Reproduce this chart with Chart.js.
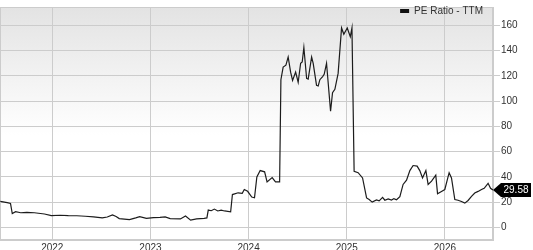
<!DOCTYPE html>
<html>
<head>
<meta charset="utf-8">
<script src="https://cdn.jsdelivr.net/npm/chart.js@4.4.0/dist/chart.umd.min.js"></script>
<style>
  html, body { margin: 0; padding: 0; background: #fff; }
  canvas { display: block; }
</style>
</head>
<body>
<canvas id="peChart" width="533" height="250"></canvas>
<script>
// decimal years, with the TTM PE ratio at each
const years = [
  2021.470, 2021.540, 2021.574, 2021.592, 2021.626, 2021.678, 2021.740, 2021.817, 2021.920, 2021.990,
  2022.080, 2022.163, 2022.250, 2022.336, 2022.420, 2022.509, 2022.560, 2022.613, 2022.650, 2022.682,
  2022.786, 2022.850, 2022.890, 2022.959, 2023.030, 2023.097, 2023.150, 2023.201, 2023.305, 2023.357,
  2023.409, 2023.470, 2023.547, 2023.575, 2023.589, 2023.620, 2023.651, 2023.686, 2023.720, 2023.755,
  2023.817, 2023.835, 2023.893, 2023.935, 2023.956, 2023.990, 2024.032, 2024.060, 2024.084, 2024.118,
  2024.163, 2024.188, 2024.240, 2024.274, 2024.316, 2024.329, 2024.352, 2024.380, 2024.403, 2024.428,
  2024.448, 2024.479, 2024.505, 2024.530, 2024.546, 2024.563, 2024.591, 2024.607, 2024.642, 2024.658,
  2024.692, 2024.709, 2024.726, 2024.754, 2024.770, 2024.794, 2024.835, 2024.855, 2024.879, 2024.912,
  2024.947, 2024.970, 2024.991, 2025.005, 2025.036, 2025.053, 2025.075, 2025.116, 2025.161, 2025.202,
  2025.228, 2025.259, 2025.303, 2025.330, 2025.365, 2025.388, 2025.422, 2025.456, 2025.480, 2025.507,
  2025.541, 2025.574, 2025.609, 2025.643, 2025.676, 2025.717, 2025.744, 2025.772, 2025.806, 2025.829,
  2025.864, 2025.907, 2025.925, 2025.965, 2025.999, 2026.043, 2026.067, 2026.101, 2026.134, 2026.169,
  2026.203, 2026.236, 2026.271, 2026.304, 2026.338, 2026.373, 2026.400, 2026.440, 2026.465, 2026.489
];
const peRatio = [
  20.6, 19.6, 19.0, 11.0, 12.4, 11.6, 11.9, 11.6, 10.6, 9.3,
  9.6, 9.3, 9.2, 8.8, 8.3, 7.5, 8.2, 9.8, 8.6, 7.0,
  6.2, 7.5, 8.5, 7.2, 7.8, 8.0, 8.3, 7.0, 6.7, 9.0,
  5.7, 6.8, 7.2, 7.5, 13.7, 13.2, 14.5, 13.0, 13.6, 13.0,
  12.4, 26.0, 27.4, 27.0, 30.0, 28.6, 24.0, 23.5, 40.0, 45.0,
  44.0, 36.0, 39.5, 36.0, 36.0, 117, 127, 128.5, 135, 123,
  116.4, 123, 115, 130, 131, 142.5, 118, 117.5, 135, 130,
  112.5, 112, 117, 119.5, 121.3, 130, 92, 106.7, 109.4, 122,
  158, 153, 156, 158, 151, 158, 44.4, 43.3, 39.2, 23.3,
  22, 20, 21.7, 21, 23.8, 21.5, 22.5, 21.7, 22.8, 21.9,
  24.4, 34, 37.4, 45, 49, 48.5, 45, 39.2, 45, 34,
  36.6, 41.3, 26.7, 28.5, 30, 43.3, 39.2, 22, 21.5, 20.5,
  19.2, 21.3, 24.5, 27.2, 28.5, 30, 31, 34.9, 31, 29.58
];
const xTickYears = [2022, 2023, 2024, 2025, 2026];
const yTickValues = [0, 20, 40, 60, 80, 100, 120, 140, 160];
const seriesLabel = "PE Ratio - TTM";
const lastValueLabel = "29.58";

const fontFamily = "'Liberation Sans', Arial, sans-serif";
const labelFont = { family: fontFamily, size: 10 };
const textColor = "#333333";
const gridColor = "#cccccc";

const backgroundPlugin = {
  id: "plotBackground",
  beforeDraw(chart) {
    const { ctx, chartArea: a } = chart;
    const grad = ctx.createLinearGradient(0, a.top, 0, a.bottom);
    grad.addColorStop(0, "#e3e3e3");
    grad.addColorStop(0.55, "#ffffff");
    grad.addColorStop(1, "#ffffff");
    ctx.save();
    ctx.fillStyle = grad;
    ctx.fillRect(a.left, a.top, a.right - a.left, a.bottom - a.top);
    ctx.restore();
  },
  beforeDatasetsDraw(chart) {
    const { ctx, chartArea: a } = chart;
    ctx.save();
    ctx.strokeStyle = gridColor;
    ctx.lineWidth = 1;
    ctx.strokeRect(a.left + 0.5, a.top + 0.5, a.right - a.left - 1, a.bottom - a.top - 1);
    ctx.restore();
  }
};

// legend in the top right corner of the plot, plus the last value tag
const overlayPlugin = {
  id: "overlay",
  afterDraw(chart) {
    const { ctx, chartArea: a } = chart;
    ctx.save();
    ctx.font = "10px " + fontFamily;
    ctx.textBaseline = "middle";
    const textW = ctx.measureText(seriesLabel).width;
    const textX = a.right - 10 - textW;
    ctx.fillStyle = "#111";
    ctx.fillRect(textX - 14, 9, 9, 4);
    ctx.fillStyle = textColor;
    ctx.textAlign = "left";
    ctx.fillText(seriesLabel, textX, 11.5);

    const y = Math.round(chart.scales.y.getPixelForValue(peRatio[peRatio.length - 1]));
    const x0 = a.right;
    ctx.fillStyle = "#000";
    ctx.beginPath();
    ctx.moveTo(x0, y);
    ctx.lineTo(x0 + 8, y - 7);
    ctx.lineTo(x0 + 38, y - 7);
    ctx.lineTo(x0 + 38, y + 7);
    ctx.lineTo(x0 + 8, y + 7);
    ctx.closePath();
    ctx.fill();
    ctx.fillStyle = "#fff";
    ctx.textAlign = "center";
    ctx.fillText(lastValueLabel, x0 + 23, y + 0.5);
    ctx.restore();
  }
};

new Chart(document.getElementById("peChart"), {
  type: "line",
  data: {
    datasets: [{
      label: seriesLabel,
      data: years.map((x, i) => ({ x: x, y: peRatio[i] })),
      borderColor: "#1c1c1c",
      backgroundColor: "#111111",
      borderWidth: 1.2,
      pointRadius: 0,
      tension: 0,
      fill: false
    }]
  },
  options: {
    responsive: false,
    animation: false,
    layout: { padding: 0 },
    plugins: {
      legend: { display: false },
      tooltip: { enabled: false }
    },
    scales: {
      x: {
        type: "linear",
        min: 2021.467,
        max: 2026.49,
        afterBuildTicks: (scale) => { scale.ticks = xTickYears.map(v => ({ value: v })); },
        afterFit: (scale) => { scale.height = 10; },
        ticks: {
          callback: (v) => String(v),
          color: textColor,
          font: labelFont,
          padding: 2,
          maxRotation: 0,
          autoSkip: false
        },
        grid: { color: gridColor, drawTicks: false },
        border: { color: gridColor }
      },
      y: {
        position: "right",
        min: -10,
        max: 174.6,
        afterBuildTicks: (scale) => { scale.ticks = yTickValues.map(v => ({ value: v })); },
        afterFit: (scale) => { scale.width = 40; },
        ticks: {
          color: textColor,
          font: labelFont,
          padding: 1
        },
        grid: { color: gridColor, tickLength: 7, tickColor: gridColor },
        border: { color: gridColor }
      }
    }
  },
  plugins: [backgroundPlugin, overlayPlugin]
});
</script>
</body>
</html>
